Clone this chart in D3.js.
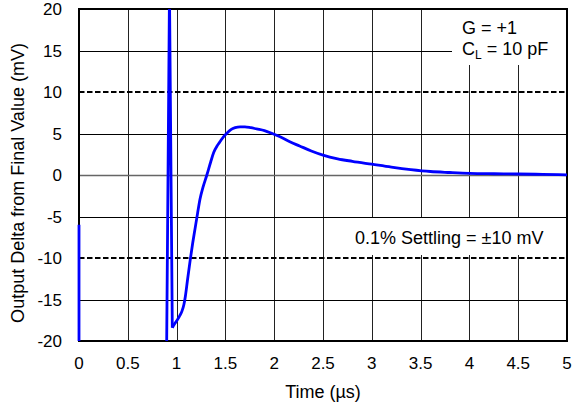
<!DOCTYPE html>
<html><head><meta charset="utf-8">
<script src="https://cdn.jsdelivr.net/npm/d3@7"></script>
<style>body{margin:0;background:#fff}text{font-family:"Liberation Sans",Arial,sans-serif;fill:#000}</style>
</head><body><svg id="c" width="572" height="404"></svg>
<script>
const xTicks = [0,0.5,1,1.5,2,2.5,3,3.5,4,4.5,5];
const xTickLabels = ["0","0.5","1","1.5","2","2.5","3","3.5","4","4.5","5"];
const yTicks = [-20,-15,-10,-5,0,5,10,15,20];
const yTickLabels = ["-20","-15","-10","-5","0","5","10","15","20"];
const settlingBand = [-10, 10];
// step edge + overload spike: time (µs) and output delta (mV), off-scale values clipped
const spikeTimeUs = [0,0,0.885,0.927,0.956];
const spikeDeltaMv = [-6,-40,-40,22,-18.4];
// recovery and settling: time (µs) and output delta (mV)
const timeUs = [0.956,0.975,1.0,1.03,1.055,1.075,1.09,1.11,1.14,1.165,1.19,1.215,1.24,1.27,1.31,1.35,1.38,1.42,1.45,1.48,1.52,1.56,1.60,1.65,1.70,1.76,1.82,1.90,1.98,2.06,2.16,2.26,2.38,2.5,2.65,2.8,3.0,3.2,3.4,3.6,3.8,4.0,4.25,4.5,4.75,5.0];
const deltaMv = [-18.4,-18.0,-17.6,-17.0,-16.4,-15.6,-14.6,-12.8,-10.2,-8.2,-6.4,-4.6,-2.9,-1.5,0.0,1.6,2.7,3.6,4.1,4.6,5.1,5.5,5.7,5.8,5.8,5.7,5.55,5.35,5.0,4.6,4.0,3.5,2.9,2.4,1.95,1.65,1.3,0.95,0.65,0.42,0.3,0.2,0.15,0.12,0.08,0.02];

const svg = d3.select("#c");
const L=79,R=567,T=9,B=341;
const x = d3.scaleLinear().domain([0,5]).range([L,R]);
const y = d3.scaleLinear().domain([-20,20]).range([B,T]);

// gridlines
svg.append("g").selectAll("line").data(xTicks.slice(1,-1)).join("line")
  .attr("x1",d=>Math.round(x(d))+0.5).attr("x2",d=>Math.round(x(d))+0.5).attr("y1",T).attr("y2",B)
  .attr("stroke","#222").attr("stroke-width",1);
svg.append("g").selectAll("line").data(yTicks.filter(d=>d!==-20&&d!==20&&settlingBand.indexOf(d)<0)).join("line")
  .attr("x1",L).attr("x2",R).attr("y1",d=>Math.round(y(d))+0.5).attr("y2",d=>Math.round(y(d))+0.5)
  .attr("stroke",d=>d===0?"#666":"#000").attr("stroke-width",d=>d===0?1.5:1);
svg.append("g").selectAll("line").data(settlingBand).join("line")
  .attr("x1",L).attr("x2",R).attr("y1",d=>y(d)).attr("y2",d=>y(d))
  .attr("stroke","#000").attr("stroke-width",1.8).attr("stroke-dasharray","5.5,2.5");

// annotation boxes (white backgrounds)
svg.append("rect").attr("x",452).attr("y",T).attr("width",R-452).attr("height",56).attr("fill","#fff");
svg.append("rect").attr("x",346).attr("y",218).attr("width",R-346).attr("height",37).attr("fill","#fff");

// border
svg.append("rect").attr("x",L).attr("y",T).attr("width",R-L).attr("height",B-T)
  .attr("fill","none").attr("stroke","#000").attr("stroke-width",2);

// clip + data
svg.append("clipPath").attr("id","clip").append("rect").attr("x",L-2).attr("y",T).attr("width",R-L+2).attr("height",B-T);
const line = d3.line().x(d=>x(d[0])).y(d=>y(d[1]));
svg.append("path").datum(spikeTimeUs.map((t,i)=>[t,spikeDeltaMv[i]])).attr("clip-path","url(#clip)")
  .attr("d",line).attr("fill","none").attr("stroke","#0000ff").attr("stroke-width",2.8).attr("stroke-linejoin","round");
svg.append("path").datum(timeUs.map((t,i)=>[t,deltaMv[i]])).attr("clip-path","url(#clip)")
  .attr("d",line.curve(d3.curveMonotoneX)).attr("fill","none").attr("stroke","#0000ff").attr("stroke-width",2.8).attr("stroke-linejoin","round");

// tick labels
svg.append("g").selectAll("text").data(yTicks).join("text")
  .attr("x",62).attr("y",d=>y(d)+6).attr("text-anchor","end")
  .attr("font-size",17).text((d,i)=>yTickLabels[i]);
svg.append("g").selectAll("text").data(xTicks).join("text")
  .attr("x",d=>x(d)).attr("y",369).attr("text-anchor","middle")
  .attr("font-size",17).text((d,i)=>xTickLabels[i]);

// axis titles
svg.append("text").attr("x",323).attr("y",398).attr("text-anchor","middle").attr("font-size",18).text("Time (µs)");
svg.append("text").attr("transform","translate(24,183) rotate(-90)").attr("text-anchor","middle").attr("font-size",18).text("Output Delta from Final Value (mV)");

// annotations
svg.append("text").attr("x",462).attr("y",34).attr("font-size",18).text("G = +1");
const cl = svg.append("text").attr("x",462).attr("y",55).attr("font-size",18);
cl.append("tspan").text("C");
cl.append("tspan").attr("font-size",12).attr("dy",4).text("L");
cl.append("tspan").attr("dy",-4).text(" = 10 pF");
svg.append("text").attr("x",355).attr("y",244).attr("font-size",18).text("0.1% Settling = ±10 mV");
</script></body></html>
